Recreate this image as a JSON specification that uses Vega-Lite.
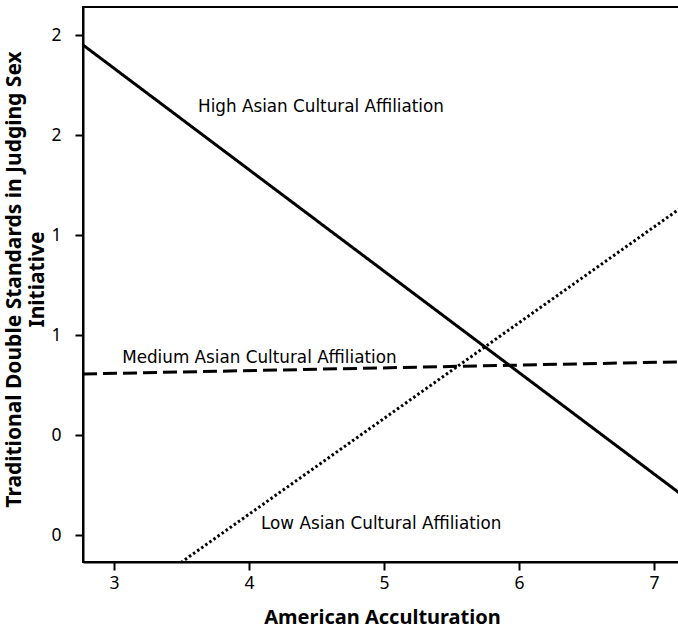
{
  "$schema": "https://vega.github.io/schema/vega-lite/v6.json",
  "autosize": {"type": "none"},
  "padding": {"left": 83, "top": 7, "right": 0, "bottom": 71},
  "width": 598,
  "height": 555,
  "config": {
    "view": {"stroke": "black", "strokeWidth": 2},
    "font": "Noto Sans"
  },
  "datasets": {
    "lines": [
      {"group": "High", "x": 2.77, "y": 2.45},
      {"group": "High", "x": 7.2, "y": 0.204},
      {"group": "Medium", "x": 2.77, "y": 0.805},
      {"group": "Medium", "x": 7.2, "y": 0.866},
      {"group": "Low", "x": 2.77, "y": -0.485},
      {"group": "Low", "x": 7.2, "y": 1.636}
    ],
    "labels": [
      {"label": "High Asian Cultural Affiliation", "x": 3.622, "y": 2.14},
      {"label": "Medium Asian Cultural Affiliation", "x": 3.06, "y": 0.885},
      {"label": "Low Asian Cultural Affiliation", "x": 4.089, "y": 0.055}
    ]
  },
  "layer": [
    {
      "data": {"name": "lines"},
      "mark": {"type": "line", "clip": true, "color": "black", "strokeWidth": 3},
      "encoding": {
        "x": {
          "field": "x", "type": "quantitative",
          "scale": {"domain": [2.77, 7.2], "nice": false, "zero": false},
          "axis": {
            "values": [3, 4, 5, 6, 7],
            "format": "d",
            "title": "American Acculturation",
            "titleFontSize": 20, "titleFontWeight": "bold", "titleColor": "black",
            "titlePadding": 16,
            "labelFontSize": 17.5, "labelColor": "black", "labelPadding": 4,
            "tickColor": "black", "tickSize": 8, "tickWidth": 2,
            "domainColor": "black", "domainWidth": 2, "grid": false
          }
        },
        "y": {
          "field": "y", "type": "quantitative",
          "scale": {"domain": [-0.135, 2.64], "nice": false, "zero": false},
          "axis": {
            "values": [0, 0.5, 1, 1.5, 2, 2.5],
            "labelExpr": "floor(datum.value)",
            "title": ["Traditional Double Standards in Judging Sex", "Initiative"],
            "titleFontSize": 21, "titleFontWeight": "bold", "titleColor": "black",
            "titleX": -80, "titleY": 272, "titleBaseline": "top", "titleLineHeight": 23,
            "labelFontSize": 17.5, "labelColor": "black", "labelPadding": 14,
            "tickColor": "black", "tickSize": 8, "tickWidth": 2,
            "domainColor": "black", "domainWidth": 2, "grid": false
          }
        },
        "detail": {"field": "group"},
        "strokeDash": {
          "field": "group", "type": "nominal",
          "scale": {"domain": ["High", "Medium", "Low"], "range": [[1, 0], [14, 6], [2.5, 2.5]]},
          "legend": null
        }
      }
    },
    {
      "data": {"name": "labels"},
      "mark": {"type": "text", "align": "left", "baseline": "middle", "fontSize": 16.8, "font": "DejaVu Sans", "color": "black"},
      "encoding": {
        "x": {"field": "x", "type": "quantitative"},
        "y": {"field": "y", "type": "quantitative"},
        "text": {"field": "label"}
      }
    }
  ]
}
